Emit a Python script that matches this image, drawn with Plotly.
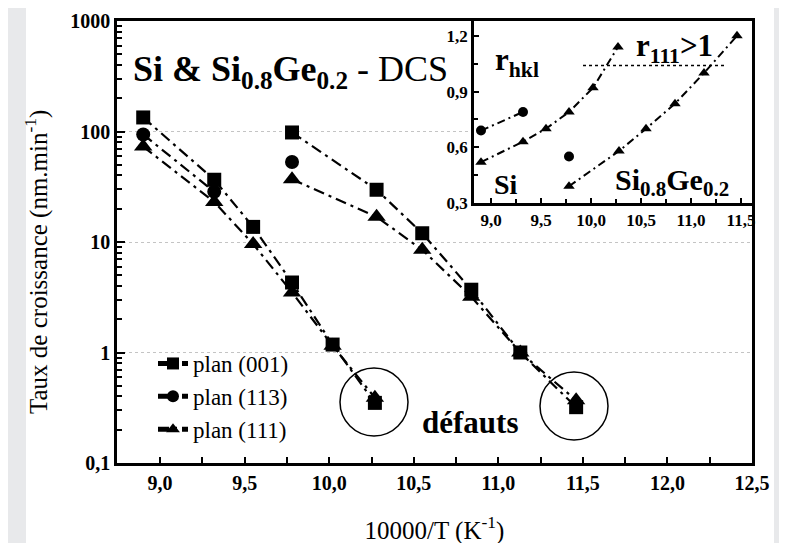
import plotly.graph_objects as go

# ---------------- data ----------------
# Main plot: growth rate (nm/min) vs 10000/T (K^-1)
x_si = [8.90, 9.32, 9.55, 9.78, 10.02, 10.27]
si_001 = [134, 36.6, 13.7, 4.3, 1.18, 0.35]
si_111 = [73, 23, 9.6, 3.5, 1.15, 0.39]
x_si_113 = [8.90, 9.32]
si_113 = [94, 28.5]

x_sige = [9.78, 10.28, 10.55, 10.84, 11.13, 11.46]
sige_001 = [98, 29.7, 12.0, 3.7, 1.0, 0.32]
sige_111 = [37, 16.9, 8.5, 3.2, 1.0, 0.37]
x_sige_113 = [9.78]
sige_113 = [53]

# Inset: r_hkl ratio
r_x_si = [8.90, 9.32, 9.55, 9.78, 10.02, 10.27]
r111_si = [0.52, 0.63, 0.70, 0.79, 0.92, 1.14]
r_x_si_113 = [8.90, 9.32]
r113_si = [0.69, 0.79]
r_x_sige = [9.78, 10.28, 10.55, 10.84, 11.13, 11.46]
r111_sige = [0.39, 0.58, 0.70, 0.835, 1.0, 1.20]
r_x_sige_113 = [9.78]
r113_sige = [0.55]

r_threshold = 1.04
r_threshold_x = [9.92, 11.36]

main_xticks = [9.0, 9.5, 10.0, 10.5, 11.0, 11.5, 12.0, 12.5]
main_yticks = [0.1, 1, 10, 100, 1000]
main_yticktext = ["0,1", "1", "10", "100", "1000"]
inset_xticks = [9.0, 9.5, 10.0, 10.5, 11.0, 11.5]
inset_yticks = [0.3, 0.6, 0.9, 1.2]

names = ["plan (001)", "plan (113)", "plan (111)"]

# ---------------- style ----------------
FONT = "Times New Roman"
DASH = "11px,5px,3px,5px"
DASH_IN = "8px,4px,2px,4px"

fig = go.Figure()

def add(x, y, sym, size, name=None, legend=False, xa="x", ya="y", lw=2.2, dash=DASH):
    fig.add_trace(go.Scatter(
        x=x, y=y, mode="lines+markers", name=name, showlegend=legend,
        xaxis=xa, yaxis=ya,
        line=dict(color="black", width=lw, dash=dash),
        marker=dict(symbol=sym, size=size, color="black"),
        legendgroup=name,
    ))

# main plot
add(x_si, si_001, "square", 14, names[0], True)
add(x_si_113, si_113, "circle", 14, names[1], True)
add(x_si, si_111, "triangle-up", 16, names[2], True)
add(x_sige, sige_001, "square", 14, names[0])
add(x_sige_113, sige_113, "circle", 14, names[1])
add(x_sige, sige_111, "triangle-up", 16, names[2])

# inset
add(r_x_si, r111_si, "triangle-up", 10, xa="x2", ya="y2", lw=2, dash=DASH_IN)
add(r_x_si_113, r113_si, "circle", 10, xa="x2", ya="y2", lw=2, dash=DASH_IN)
add(r_x_sige, r111_sige, "triangle-up", 10, xa="x2", ya="y2", lw=2, dash=DASH_IN)
add(r_x_sige_113, r113_sige, "circle", 10, xa="x2", ya="y2", lw=2, dash=DASH_IN)

# ---------------- layout ----------------
OFF = 8                      # page body margin offset
W, H = 787, 543
L = 117 - OFF
T = 21 - OFF
R = W - (752 - OFF)
B = H - (463 - OFF)
pw, ph = W - L - R, H - T - B

def px(xs):                  # screen x -> paper
    return (xs - OFF - L) / pw

def py(ys):                  # screen y -> paper
    return (H - B - (ys - OFF)) / ph

shapes = [
    # white card on grey page
    dict(type="rect", xref="paper", yref="paper", x0=px(26), x1=px(774),
         y0=py(620), y1=py(3), fillcolor="white", line=dict(width=0), layer="below"),
    # defect circles
    dict(type="circle", xref="paper", yref="paper", x0=px(340), x1=px(408),
         y0=py(436), y1=py(368), line=dict(color="black", width=1.5)),
    dict(type="circle", xref="paper", yref="paper", x0=px(540), x1=px(608),
         y0=py(440), y1=py(372), line=dict(color="black", width=1.5)),
    # r111 = 1 dotted threshold
    dict(type="line", xref="x2", yref="y2", x0=r_threshold_x[0], x1=r_threshold_x[1],
         y0=r_threshold, y1=r_threshold, line=dict(color="black", width=1.5, dash="dot")),
]

annotations = [
    dict(text="<b>Si & Si<sub>0.8</sub>Ge<sub>0.2</sub></b> - DCS", xref="paper", yref="paper",
         x=px(131), y=py(71), xanchor="left", yanchor="middle", showarrow=False,
         font=dict(family=FONT, size=36, color="black")),
    dict(text="<b>défauts</b>", xref="paper", yref="paper",
         x=px(470), y=py(422), xanchor="center", yanchor="middle", showarrow=False,
         font=dict(family=FONT, size=31, color="black")),
    dict(text="<b>r<sub>hkl</sub></b>", xref="paper", yref="paper",
         x=px(493), y=py(62), xanchor="left", yanchor="middle", showarrow=False,
         font=dict(family=FONT, size=31, color="black")),
    dict(text="<b>r<sub>111</sub>>1</b>", xref="paper", yref="paper",
         x=px(634), y=py(48), xanchor="left", yanchor="middle", showarrow=False,
         font=dict(family=FONT, size=31, color="black")),
    dict(text="<b>Si</b>", xref="paper", yref="paper",
         x=px(492), y=py(184), xanchor="left", yanchor="middle", showarrow=False,
         font=dict(family=FONT, size=28, color="black")),
    dict(text="<b>Si<sub>0.8</sub>Ge<sub>0.2</sub></b>", xref="paper", yref="paper",
         x=px(613), y=py(182), xanchor="left", yanchor="middle", showarrow=False,
         font=dict(family=FONT, size=30, color="black")),
    # y-axis title
    dict(text="Taux de croissance (nm.min<sup>-1</sup>)", xref="paper", yref="paper",
         x=px(36), y=py(262), xanchor="center", yanchor="middle", showarrow=False,
         textangle=-90, font=dict(family=FONT, size=25, color="black")),
]

axis_line = dict(showline=True, linecolor="black", linewidth=2.5, mirror=True,
                 zeroline=False)

fig.update_layout(
    width=W, height=H,
    margin=dict(l=L, r=R, t=T, b=B, autoexpand=False),
    paper_bgcolor="#e8e9eb",
    plot_bgcolor="white",
    separators=", ",
    font=dict(family=FONT, color="black"),
    shapes=shapes,
    annotations=annotations,
    legend=dict(x=px(153), y=py(342), xanchor="left", yanchor="top",
                bgcolor="rgba(0,0,0,0)", font=dict(family=FONT, size=23),
                tracegroupgap=0, itemsizing="constant"),
    xaxis=dict(
        domain=[0, 1], range=[8.745, 12.5], tickvals=main_xticks, tickformat=".1f",
        ticks="inside", ticklen=6, tickwidth=1.5, tickcolor="black",
        minor=dict(dtick=0.25, tick0=9.0, ticks="inside", ticklen=6, tickwidth=1.5, tickcolor="black"),
        showgrid=False,
        tickfont=dict(family=FONT, size=20, weight="bold"),
        title=dict(text="10000/T (K<sup>-1</sup>)", font=dict(family=FONT, size=25), standoff=29),
        **axis_line,
    ),
    yaxis=dict(
        domain=[0, 1], type="log", range=[-1, 3],
        tickvals=main_yticks, ticktext=main_yticktext,
        ticks="inside", ticklen=8, tickwidth=1.5, tickcolor="black",
        minor=dict(dtick="D1", ticks="inside", ticklen=5, tickwidth=1.5, tickcolor="black", showgrid=False),
        showgrid=True, gridcolor="#c4c4c4", griddash="dot", gridwidth=1,
        tickfont=dict(family=FONT, size=20, weight="bold"),
        **axis_line,
    ),
    xaxis2=dict(
        domain=[px(474), 1], anchor="y2", range=[8.83, 11.61], tickvals=inset_xticks,
        tickformat=".1f", ticks="inside", ticklen=5, tickwidth=1.5, tickcolor="black",
        minor=dict(dtick=0.25, tick0=9.0, ticks="inside", ticklen=4, tickwidth=1.5, tickcolor="black"),
        showgrid=False, tickfont=dict(family=FONT, size=17, weight="bold"),
        **axis_line,
    ),
    yaxis2=dict(
        domain=[py(203), 1], anchor="x2", range=[0.3, 1.28], tickvals=inset_yticks,
        tickformat=".1f", ticks="inside", ticklen=5, tickwidth=1.5, tickcolor="black",
        minor=dict(dtick=0.15, tick0=0.3, ticks="inside", ticklen=4, tickwidth=1.5, tickcolor="black"),
        showgrid=False, tickfont=dict(family=FONT, size=17, weight="bold"),
        **axis_line,
    ),
)

fig.write_html("out.html")
